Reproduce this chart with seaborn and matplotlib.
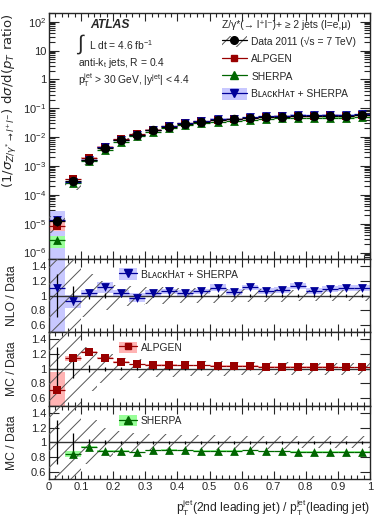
import numpy as np
import matplotlib
matplotlib.use('Agg')
import matplotlib.pyplot as plt
import seaborn as sns
from matplotlib.ticker import MultipleLocator, FixedLocator, LogLocator, NullFormatter, FuncFormatter
from matplotlib.patches import Patch
from matplotlib.lines import Line2D
from matplotlib.legend_handler import HandlerTuple

# bins of pT(2nd jet) / pT(leading jet)
bin_centers = [0.025, 0.075, 0.125, 0.175, 0.225, 0.275, 0.325, 0.375, 0.425, 0.475,
               0.525, 0.575, 0.625, 0.675, 0.725, 0.775, 0.825, 0.875, 0.925, 0.975]
bin_half = 0.025

# data, normalised cross section
data_y = [1.2e-5, 3.0e-4, 1.6e-3, 4.1e-3, 7.9e-3, 1.23e-2, 1.74e-2, 2.26e-2, 2.9e-2, 3.4e-2,
          3.9e-2, 4.2e-2, 4.5e-2, 4.9e-2, 5.1e-2, 5.4e-2, 5.4e-2, 5.5e-2, 5.5e-2, 5.7e-2]
data_stat = [0.30, 0.13, 0.05, 0.03, 0.02, 0.02, 0.02, 0.02, 0.02, 0.02,
             0.02, 0.02, 0.02, 0.02, 0.02, 0.02, 0.02, 0.02, 0.02, 0.02]
data_syst = [0.60, 0.50, 0.30, 0.20, 0.15, 0.13, 0.11, 0.11, 0.10, 0.10,
             0.10, 0.09, 0.09, 0.09, 0.09, 0.08, 0.08, 0.08, 0.08, 0.08]

# prediction / data
blackhat_ratio = [1.10, 0.92, 1.03, 1.11, 1.03, 0.97, 1.03, 1.055, 1.04, 1.055,
                  1.105, 1.05, 1.11, 1.06, 1.075, 1.125, 1.06, 1.085, 1.105, 1.105]
blackhat_err = [1.15, 0.09, 0.05, 0.07, 0.05, 0.06, 0.04, 0.04, 0.04, 0.04,
                0.05, 0.04, 0.04, 0.04, 0.04, 0.04, 0.04, 0.04, 0.04, 0.04]
alpgen_ratio = [0.71, 1.14, 1.23, 1.15, 1.09, 1.06, 1.05, 1.055, 1.045, 1.045,
                1.04, 1.035, 1.035, 1.03, 1.03, 1.03, 1.025, 1.025, 1.02, 1.02]
alpgen_err = [0.24, 0.03, 0.015, 0.01, 0.01, 0.01, 0.01, 0.01, 0.01, 0.01,
              0.01, 0.01, 0.01, 0.01, 0.01, 0.01, 0.01, 0.01, 0.01, 0.01]
sherpa_ratio = [0.22, 0.84, 0.94, 0.88, 0.88, 0.864, 0.89, 0.90, 0.89, 0.88,
                0.88, 0.885, 0.89, 0.877, 0.877, 0.87, 0.87, 0.87, 0.87, 0.87]
sherpa_err = [0.10, 0.04, 0.015, 0.01, 0.01, 0.01, 0.01, 0.01, 0.01, 0.01,
              0.01, 0.01, 0.01, 0.01, 0.01, 0.01, 0.01, 0.01, 0.01, 0.01]

x = np.array(bin_centers)
dy = np.array(data_y)

c_alp, b_alp = '#990000', '#ffb3b3'
c_she, b_she = '#006600', '#99ff99'
c_bh, b_bh = '#000099', '#c8c8ff'
c_hatch = '#555555'

sns.set_style('ticks')
plt.rcParams['font.family'] = ['Liberation Sans', 'DejaVu Sans']
plt.rcParams['mathtext.fontset'] = 'custom'
plt.rcParams['mathtext.rm'] = 'Liberation Sans'
plt.rcParams['mathtext.it'] = 'Liberation Sans'
plt.rcParams['mathtext.bf'] = 'Liberation Sans:bold'
plt.rcParams['mathtext.fallback'] = 'stixsans'
plt.rcParams['hatch.linewidth'] = 0.7
plt.rcParams['axes.linewidth'] = 1.0

fig = plt.figure(figsize=(3.9, 5.2), dpi=100)
W, H = 390.0, 520.0
L, R = 49, 370
ax = fig.add_axes([L / W, 1 - 259 / H, (R - L) / W, 246 / H])
ax1 = fig.add_axes([L / W, 1 - 332 / H, (R - L) / W, 73 / H], sharex=ax)
ax2 = fig.add_axes([L / W, 1 - 405.5 / H, (R - L) / W, 73.5 / H], sharex=ax)
ax3 = fig.add_axes([L / W, 1 - 479 / H, (R - L) / W, 73.5 / H], sharex=ax)


def draw_band(a, lo, hi, color, z=1):
    a.bar(x, np.array(hi) - np.array(lo), bottom=lo, width=2 * bin_half,
          color=color, linewidth=0, zorder=z)


def draw_hatch(a, lo, hi, z=3):
    a.bar(x, np.array(hi) - np.array(lo), bottom=lo, width=2 * bin_half,
          facecolor='none', edgecolor=c_hatch, hatch='//', linewidth=0, zorder=z)


def draw_points(a, y, yerr, color, marker, ms, z=5):
    a.errorbar(x, y, xerr=bin_half, yerr=yerr, fmt='none', ecolor=color,
               elinewidth=0.9, capsize=0, zorder=z)
    sns.scatterplot(x=x, y=y, marker=marker, color=color, edgecolor=color,
                    s=ms, linewidth=0, ax=a, zorder=z + 1, legend=False)


# ---- main panel
series = [
    (sherpa_ratio, sherpa_err, c_she, b_she, '^', 40),
    (alpgen_ratio, alpgen_err, c_alp, b_alp, 's', 34),
    (blackhat_ratio, blackhat_err, c_bh, b_bh, 'v', 40),
]
for r, e, c, b, m, s in [series[2], series[1], series[0]]:
    r, e = np.array(r), np.array(e)
    draw_band(ax, np.clip(dy * (r - e), 1e-9, None), dy * (r + e), b)
syst = np.array(data_syst)
draw_hatch(ax, dy * (1 - np.minimum(syst, 0.6)), dy * (1 + syst))
for r, e, c, b, m, s in series:
    r = np.array(r)
    draw_points(ax, dy * r, dy * 0.05, c, m, s)
draw_points(ax, dy, dy * np.array(data_stat), 'black', 'o', 46, z=8)

ax.set_yscale('log')
ax.set_ylim(6e-7, 2e2)
ax.set_xlim(0, 1)
ax.yaxis.set_major_locator(FixedLocator([1e-6, 1e-5, 1e-4, 1e-3, 1e-2, 1e-1, 1, 10, 100]))


def log_fmt(v, pos):
    n = int(round(np.log10(v)))
    if n == 0:
        return '1'
    if n == 1:
        return '10'
    return r'$10^{%d}$' % n


ax.yaxis.set_major_formatter(FuncFormatter(log_fmt))
ax.yaxis.set_minor_locator(LogLocator(base=10, subs=np.arange(2, 10), numticks=20))
ax.yaxis.set_minor_formatter(NullFormatter())
ax.set_ylabel(r'$(1/\sigma_{Z/\gamma^{*}\rightarrow l^{+}l^{-}})\ \mathrm{d}\sigma/\mathrm{d}(p_{T}\ \mathrm{ratio})$',
              fontsize=9.5, loc='top', math_fontfamily='dejavusans')
ax.yaxis.set_label_coords(-0.092, 1.0)

ax.text(0.128, 0.951, 'ATLAS', transform=ax.transAxes, fontsize=8.7,
        fontweight='bold', fontstyle='italic', va='center', ha='left')
ax.text(0.088, 0.872, '\u222b', transform=ax.transAxes, fontsize=15, va='center', ha='left')
ax.text(0.124, 0.87, r'L dt = 4.6 fb$^{-1}$', transform=ax.transAxes, fontsize=7.4, va='center', ha='left')
ax.text(0.09, 0.797, r'anti-k$_{t}$ jets, R = 0.4', transform=ax.transAxes, fontsize=7.4, va='center', ha='left')
ax.text(0.09, 0.728, r'p$_{T}^{jet}$ > 30 GeV, |y$^{jet}$| < 4.4', transform=ax.transAxes,
        fontsize=7.4, va='center', ha='left')

h_data = (Patch(facecolor='none', edgecolor=c_hatch, hatch='//', linewidth=0),
          Line2D([], [], color='black', marker='o', markersize=5.5, lw=0.9))
h_alp = Line2D([], [], color=c_alp, marker='s', markersize=5, lw=0.9)
h_she = Line2D([], [], color=c_she, marker='^', markersize=5.5, lw=0.9)
h_bh = (Patch(facecolor=b_bh, linewidth=0), Line2D([], [], color=c_bh, marker='v', markersize=5.5, lw=0.9))
bh_label = 'B\u029f\u1d00\u1d04\u1d0bH\u1d00\u1d1b + SHERPA'
leg = ax.legend([h_data, h_alp, h_she, h_bh],
                ['Data 2011 (\u221as = 7 TeV)', 'ALPGEN', 'SHERPA', bh_label],
                handler_map={tuple: HandlerTuple(ndivide=1)},
                title='Z/\u03b3*(\u2192 l\u207al\u207b)+ \u2265 2 jets (l=e,\u03bc)',
                loc='upper left', bbox_to_anchor=(0.539, 0.972), frameon=False,
                fontsize=7.4, title_fontsize=7.4, borderpad=0, borderaxespad=0,
                handlelength=2.4, handleheight=1.4, handletextpad=0.45, labelspacing=0.55)
leg._legend_box.align = 'left'

# ---- ratio panels
ones = np.ones_like(x)
panels = [
    (ax1, blackhat_ratio, blackhat_err, c_bh, b_bh, 'v', 40, bh_label, 'NLO / Data'),
    (ax2, alpgen_ratio, alpgen_err, c_alp, b_alp, 's', 34, 'ALPGEN', 'MC / Data'),
    (ax3, sherpa_ratio, sherpa_err, c_she, b_she, '^', 40, 'SHERPA', 'MC / Data'),
]
for a, r, e, c, b, m, s, lab, ylab in panels:
    r, e = np.array(r), np.array(e)
    draw_band(a, r - e, r + e, b)
    draw_hatch(a, 1 - syst, 1 + syst)
    a.axhline(1, color='#333333', lw=1.0, zorder=4)
    a.errorbar(x, ones, yerr=data_stat, fmt='none', ecolor='black', elinewidth=0.9, zorder=4)
    draw_points(a, r, 0.01, c, m, s)
    a.set_ylim(0.5, 1.5)
    a.yaxis.set_major_locator(FixedLocator([0.6, 0.8, 1.0, 1.2, 1.4]))
    a.yaxis.set_major_formatter(FuncFormatter(lambda v, p: '%g' % v))
    a.set_ylabel(ylab, fontsize=8.7)
    a.yaxis.set_label_coords(-0.098, 0.5)
    mk = {'v': 5.5, 's': 5, '^': 5.5}[m]
    hd = (Patch(facecolor=b, linewidth=0), Line2D([], [], color=c, marker=m, markersize=mk, lw=0.9))
    a.legend([hd], [lab], handler_map={tuple: HandlerTuple(ndivide=1)},
             loc='upper left', bbox_to_anchor=(0.218, 0.87), frameon=False, fontsize=7.4,
             borderpad=0, borderaxespad=0, handlelength=1.8, handleheight=1.3, handletextpad=0.3)

for a in [ax, ax1, ax2, ax3]:
    a.set_xlim(0, 1)
    a.xaxis.set_major_locator(MultipleLocator(0.1))
    a.xaxis.set_minor_locator(MultipleLocator(0.02))
    a.tick_params(which='both', direction='in', top=True, right=True, labelsize=8, width=0.8, pad=2)
    a.tick_params(axis='x', which='major', length=6)
    a.tick_params(axis='x', which='minor', length=3)
    a.tick_params(axis='y', which='major', length=7)
    a.tick_params(axis='y', which='minor', length=4)
    if a is not ax3:
        a.tick_params(axis='x', labelbottom=False)
        a.set_xlabel('')

ax3.xaxis.set_major_formatter(FuncFormatter(lambda v, p: '%g' % round(v, 2)))
ax3.set_xlabel(r'p$_{T}^{jet}$(2nd leading jet) / p$_{T}^{jet}$(leading jet)', fontsize=8.7, loc='right')

fig.savefig('out.png', dpi=100)
